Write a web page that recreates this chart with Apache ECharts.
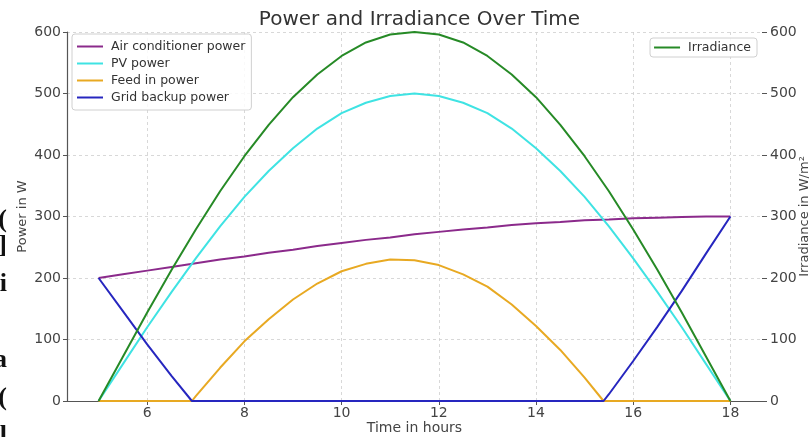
<!DOCTYPE html>
<html>
<head>
<meta charset="utf-8">
<script src="https://cdn.jsdelivr.net/npm/echarts@6/dist/echarts.min.js"></script>
<style>
html,body{margin:0;padding:0;background:#fff;}
#chart{width:809px;height:437px;}
</style>
</head>
<body>
<div id="chart"></div>
<script>
// ---- data ----
const hours = [5,5.5,6,6.5,7,7.5,8,8.5,9,9.5,10,10.5,11,11.5,12,12.5,13,13.5,14,14.5,15,15.5,16,16.5,17,17.5,18];
const irradiance = [0,72,144,213,279,341,398,449,494,531,561,583,596,600,596,583,561,531,494,449,398,341,279,213,144,72,0];
const pvPower = [0,60,120,177,232,284,332,374,411,443,468,485,496,500,496,485,468,443,411,374,332,284,232,177,120,60,0];
const acPower = [200,206,212,218,224,230,235,241,246,252,257,262,266,271,275,279,282,286,289,291,294,295,297,298,299,300,300];

const powerHours = [5,5.5,6,6.5,6.92,7,7.5,8,8.5,9,9.5,10,10.5,11,11.5,12,12.5,13,13.5,14,14.5,15,15.39,15.5,16,16.5,17,17.5,18];
const feedInPower = [0,0,0,0,0,8,54,97,133,165,191,211,223,230,229,221,206,186,157,122,83,38,0,0,0,0,0,0,0];
const gridBackupPower = [200,146,92,41,0,0,0,0,0,0,0,0,0,0,0,0,0,0,0,0,0,0,0,11,65,121,179,240,300];

const xTicks = [6,8,10,12,14,16,18];
const edgeFragments = ['(', ']', 'i', 'a', '(', 'l'];
const edgeFragmentY = [220, 246, 284, 360, 398, 436];

const zip = (xs, ys) => xs.map((x, i) => [x, ys[i]]);

const FONT = 'DejaVu Sans';
const chart = echarts.init(document.getElementById('chart'), null, {renderer: 'canvas'});

const lineSeries = (name, data, color, yIndex) => ({
  name, type: 'line', data, yAxisIndex: yIndex,
  showSymbol: false, symbol: 'none', smooth: false,
  lineStyle: {color, width: 2}, itemStyle: {color},
  emphasis: {disabled: true}
});

chart.setOption({
  animation: false,
  backgroundColor: '#fff',
  textStyle: {fontFamily: FONT},
  title: {
    text: 'Power and Irradiance Over Time',
    left: 414.5, top: 5, textAlign: 'center',
    textStyle: {fontFamily: FONT, fontSize: 20, fontWeight: 'normal', color: '#333'}
  },
  grid: {left: 67, right: 47, top: 32, bottom: 36, containLabel: false, outerBoundsMode: 'none'},
  legend: [
    {
      data: ['Air conditioner power', 'PV power', 'Feed in power', 'Grid backup power'],
      orient: 'vertical', left: 72, top: 34,
      icon: 'rect', itemWidth: 26, itemHeight: 2, itemGap: 2,
      padding: [5, 6, 5, 5],
      backgroundColor: 'rgba(255,255,255,0.85)', borderColor: '#d0d0d0', borderWidth: 1, borderRadius: 3,
      textStyle: {fontFamily: FONT, fontSize: 12.5, color: '#333', lineHeight: 15, padding: [0, 0, 0, 3]},
      selectedMode: false
    },
    {
      data: ['Irradiance'],
      orient: 'vertical', right: 52, top: 38,
      icon: 'rect', itemWidth: 26, itemHeight: 2,
      padding: [2, 6, 2, 4],
      backgroundColor: 'rgba(255,255,255,0.85)', borderColor: '#d0d0d0', borderWidth: 1, borderRadius: 3,
      textStyle: {fontFamily: FONT, fontSize: 12.5, color: '#333', lineHeight: 15, padding: [0, 0, 0, 3]},
      selectedMode: false
    }
  ],
  xAxis: {
    type: 'value', min: 4.35, max: 18.65,
    name: 'Time in hours', nameLocation: 'middle', nameGap: 20, nameMoveOverlap: false,
    nameTextStyle: {fontFamily: FONT, fontSize: 14, color: '#444'},
    axisLine: {show: true, onZero: false, lineStyle: {color: '#555', width: 1.2}},
    axisTick: {show: true, length: 4, customValues: xTicks, lineStyle: {color: '#555'}},
    axisLabel: {customValues: xTicks, margin: 5, fontFamily: FONT, fontSize: 14, color: '#444'},
    splitLine: {show: true, lineStyle: {color: '#cfcfcf', type: [3, 3], width: 0.8}}
  },
  yAxis: [
    {
      type: 'value', min: 0, max: 600, interval: 100,
      name: 'Power in W', nameLocation: 'middle', nameGap: 38, nameRotate: 90, nameMoveOverlap: false,
      nameTextStyle: {fontFamily: FONT, fontSize: 13, color: '#444'},
      axisLine: {show: true, lineStyle: {color: '#555', width: 1.2}},
      axisTick: {show: true, length: 4, lineStyle: {color: '#555'}},
      axisLabel: {margin: 6, fontFamily: FONT, fontSize: 14, color: '#444'},
      splitLine: {show: true, lineStyle: {color: '#cfcfcf', type: [3, 3], width: 0.8}}
    },
    {
      type: 'value', min: 0, max: 600, interval: 100, position: 'right',
      name: 'Irradiance in W/m²', nameLocation: 'middle', nameGap: 36, nameRotate: 90, nameMoveOverlap: false,
      nameTextStyle: {fontFamily: FONT, fontSize: 13, color: '#444'},
      axisLine: {show: false},
      axisTick: {show: true, length: 5, lineStyle: {color: '#555'}},
      axisLabel: {margin: 8, fontFamily: FONT, fontSize: 14, color: '#444'},
      splitLine: {show: false}
    }
  ],
  graphic: edgeFragments.map((t, i) => ({
    type: 'text', x: 7, y: edgeFragmentY[i], silent: true,
    style: {text: t, fill: '#111', font: 'bold 26px "Liberation Serif"', textAlign: 'right', textVerticalAlign: 'middle'}
  })),
  series: [
    lineSeries('Air conditioner power', zip(hours, acPower), '#8b2a8b', 0),
    lineSeries('PV power', zip(hours, pvPower), '#3fe3e3', 0),
    lineSeries('Feed in power', zip(powerHours, feedInPower), '#e8a922', 0),
    lineSeries('Grid backup power', zip(powerHours, gridBackupPower), '#2626bf', 0),
    lineSeries('Irradiance', zip(hours, irradiance), '#268a26', 1)
  ]
});
</script>
</body>
</html>
